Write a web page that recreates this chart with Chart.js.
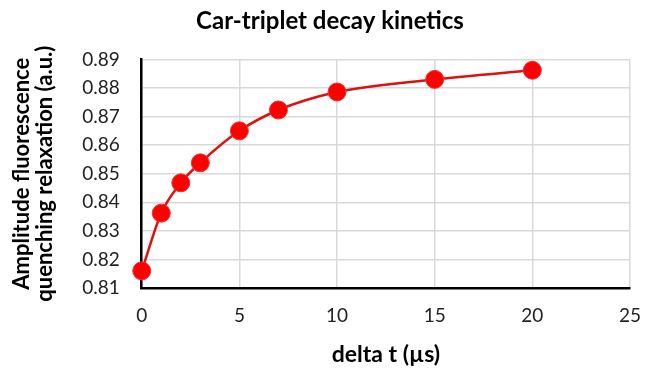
<!DOCTYPE html>
<html>
<head>
<meta charset="utf-8">
<script src="https://cdn.jsdelivr.net/npm/chart.js@4.4.0/dist/chart.umd.min.js"></script>
<style>
  html, body { margin: 0; padding: 0; background: #fff; }
  #wrap { width: 650px; height: 370px; }
</style>
</head>
<body>
<div id="wrap"><canvas id="chart" width="650" height="370"></canvas></div>
<script>
const deltaT = [0, 1, 2, 3, 5, 7, 10, 15, 20];
const amplitude = [0.816, 0.8362, 0.8468, 0.8538, 0.865, 0.8723, 0.8786, 0.883, 0.8862];
const xTicks = [0, 5, 10, 15, 20, 25];
const yTicks = [0.81, 0.82, 0.83, 0.84, 0.85, 0.86, 0.87, 0.88, 0.89];

const font = 'Lato, "Open Sans", sans-serif';

const ctx = document.getElementById('chart').getContext('2d');
new Chart(ctx, {
  type: 'scatter',
  data: {
    datasets: [{
      data: deltaT.map((x, i) => ({ x: x, y: amplitude[i] })),
      showLine: true,
      borderColor: '#dd1111',
      borderWidth: 2.5,
      backgroundColor: '#ff0000',
      pointBackgroundColor: '#ff0000',
      pointBorderColor: '#f03030',
      pointBorderWidth: 1,
      pointRadius: 9,
      cubicInterpolationMode: 'monotone',
      clip: false
    }]
  },
  options: {
    responsive: false,
    animation: false,
    layout: { padding: { left: 10, right: 0, top: 4, bottom: 2 } },
    plugins: {
      legend: { display: false },
      tooltip: { enabled: false },
      title: {
        display: true,
        text: 'Car-triplet decay kinetics',
        color: '#000',
        font: { family: font, size: 24, weight: 'bold', lineHeight: 1.1 },
        padding: { top: 4, bottom: 25 }
      }
    },
    scales: {
      x: {
        type: 'linear',
        min: 0,
        max: 25,
        afterBuildTicks: axis => { axis.ticks = xTicks.map(v => ({ value: v })); },
        afterFit: axis => { axis.paddingRight = 20; },
        ticks: { color: '#222', font: { family: font, size: 19, lineHeight: 1 }, padding: 18 },
        grid: { color: '#d9d9d9', lineWidth: 1.5, drawTicks: false },
        border: { color: '#000', width: 2.5 },
        title: {
          display: true,
          text: 'delta t (µs)',
          color: '#000',
          font: { family: font, size: 23, weight: 'bold', lineHeight: 1 },
          padding: { top: 0, bottom: 2 }
        }
      },
      y: {
        min: 0.81,
        max: 0.89,
        afterBuildTicks: axis => { axis.ticks = yTicks.map(v => ({ value: v })); },
        ticks: {
          color: '#222',
          font: { family: font, size: 19 },
          padding: 22,
          callback: v => v.toFixed(2)
        },
        grid: { color: '#d9d9d9', lineWidth: 1.5, drawTicks: false },
        border: { color: '#000', width: 2.5 },
        title: {
          display: true,
          text: ['Amplitude fluorescence', 'quenching relaxation (a.u.)'],
          color: '#000',
          font: { family: font, size: 22, weight: 'bold', lineHeight: 1.05 },
          padding: { top: 0, bottom: 4 }
        }
      }
    }
  }
});
</script>
</body>
</html>
